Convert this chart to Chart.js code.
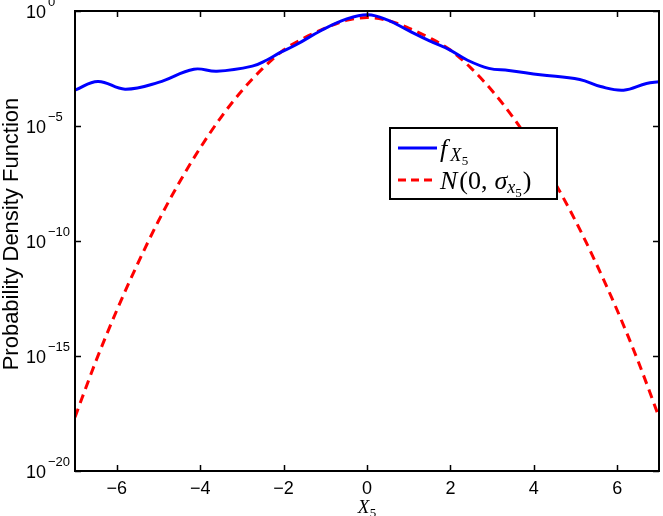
<!DOCTYPE html>
<html><head><meta charset="utf-8">
<script src="https://cdn.jsdelivr.net/npm/chart.js@4/dist/chart.umd.min.js"></script>
<style>html,body{margin:0;padding:0;background:#fff}#wrap{width:663px;height:516px}</style>
</head><body><div id="wrap"><canvas id="c" width="663" height="516"></canvas></div>
<script>
// ---- data ----
const xTickValues = [-6, -4, -2, 0, 2, 4, 6];
const yTickExponents = [0, -5, -10, -15, -20];
const yLabelText = 'Probability Density Function';

// empirical PDF f_X5 (blue)
const blueX = [-7, -6.45, -5.8, -5.0, -4.15, -3.6, -2.75, -2.4, -2.1, -1.7, -1.12, -0.5, 0.02, 0.5, 1.0, 1.5, 1.97, 2.4, 2.92, 3.4, 4.15, 5.1, 5.6, 6.15, 6.7, 7];
const blueY = [3.6e-4, 8.7e-4, 4.0e-4, 7.9e-4, 2.95e-3, 2.4e-3, 4.0e-3, 7.4e-3, 1.5e-2, 3.4e-2, 0.135, 0.44, 0.69, 0.40, 0.14, 0.05, 0.021, 7.4e-3, 3.2e-3, 2.6e-3, 1.7e-3, 1.05e-3, 5.2e-4, 3.6e-4, 7.1e-4, 8.5e-4];

// Gaussian N(0, sigma) (red dashed)
const redX = [-7, -6.5, -6, -5.5, -5, -4.5, -4, -3.5, -3, -2.5, -2, -1.5, -1, -0.5, 0, 0.5, 1, 1.5, 2, 2.5, 3, 3.5, 4, 4.5, 5, 5.5, 6, 6.5, 7];
const redY = [2.2e-18, 5.9e-16, 9.5e-14, 1.0e-11, 7.4e-10, 3.5e-8, 1.1e-6, 2.4e-5, 3.4e-4, 3.2e-3, 2.0e-2, 6.8e-2, 0.18, 0.39, 0.52, 0.39, 0.18, 6.8e-2, 2.0e-2, 3.2e-3, 3.4e-4, 2.4e-5, 1.1e-6, 3.5e-8, 7.4e-10, 1.0e-11, 9.5e-14, 5.9e-16, 2.2e-18];

const seriesNames = ['f_X5', 'N(0, σ_x5)'];
const blueColor = '#0000ff';
const redColor = '#ff0000';

const SANS = '"Liberation Sans", Arial, sans-serif';
const SERIF = '"Liberation Serif", "Times New Roman", serif';

function drawPieces(ctx, x, baseY, pieces) {
  for (const p of pieces) {
    ctx.font = p.font;
    ctx.fillText(p.t, x, baseY + (p.dy || 0));
    x += ctx.measureText(p.t).width + (p.gap || 0);
  }
  return x;
}
function piecesWidth(ctx, pieces) {
  let w = 0;
  for (const p of pieces) { ctx.font = p.font; w += ctx.measureText(p.t).width + (p.gap || 0); }
  return w;
}

const decorPlugin = {
  id: 'decor',
  afterDraw(chart) {
    const ctx = chart.ctx;
    const a = chart.chartArea;
    const xs = chart.scales.x, ys = chart.scales.y;
    ctx.save();
    ctx.fillStyle = '#000';
    ctx.strokeStyle = '#000';
    // frame
    ctx.lineWidth = 2;
    ctx.strokeRect(a.left, a.top, a.right - a.left, a.bottom - a.top);
    // ticks (inward, mirrored)
    ctx.lineWidth = 1.5;
    const tl = 6;
    ctx.beginPath();
    for (const t of xs.ticks) {
      const px = Math.round(xs.getPixelForValue(t.value)) + 0.5;
      ctx.moveTo(px, a.bottom); ctx.lineTo(px, a.bottom - tl);
      ctx.moveTo(px, a.top); ctx.lineTo(px, a.top + tl);
    }
    for (const t of ys.ticks) {
      const py = Math.round(ys.getPixelForValue(t.value)) + 0.5;
      ctx.moveTo(a.left, py); ctx.lineTo(a.left + tl, py);
      ctx.moveTo(a.right, py); ctx.lineTo(a.right - tl, py);
    }
    ctx.stroke();
    // x tick labels
    ctx.font = '18px ' + SANS;
    ctx.textAlign = 'center';
    ctx.textBaseline = 'alphabetic';
    for (const t of xs.ticks) {
      const px = xs.getPixelForValue(t.value);
      const s = t.value < 0 ? '\u2212' + Math.abs(t.value) : String(t.value);
      ctx.fillText(s, px, a.bottom + 23);
    }
    // y tick labels 10^n
    for (const t of ys.ticks) {
      const py = ys.getPixelForValue(t.value);
      const e = Math.round(Math.log10(t.value));
      ctx.font = '18px ' + SANS;
      ctx.textAlign = 'right';
      ctx.fillText('10', a.left - 29, py + 7);
      ctx.font = '13px ' + SANS;
      ctx.textAlign = 'left';
      ctx.fillText(e < 0 ? '\u2212' + Math.abs(e) : String(e), a.left - 27, py - 5);
    }
    // x axis title X_5
    ctx.textAlign = 'left';
    const xt = [{t: 'X', font: 'italic 19px ' + SERIF, gap: 0.5}, {t: '5', font: '13px ' + SERIF, dy: 4}];
    const cx = (a.left + a.right) / 2;
    drawPieces(ctx, cx - piecesWidth(ctx, xt) / 2, a.bottom + 42, xt);
    // y axis title
    ctx.save();
    ctx.translate(18, 234);
    ctx.rotate(-Math.PI / 2);
    ctx.font = '22px ' + SANS;
    ctx.textAlign = 'center';
    ctx.textBaseline = 'alphabetic';
    ctx.fillText(yLabelText, 0, 0);
    ctx.restore();
    // legend
    const lx = 390, ly = 128, lw = 167, lh = 71;
    ctx.fillStyle = '#fff';
    ctx.fillRect(lx, ly, lw, lh);
    ctx.lineWidth = 2;
    ctx.strokeStyle = '#000';
    ctx.strokeRect(lx, ly, lw, lh);
    ctx.lineWidth = 3;
    ctx.strokeStyle = blueColor;
    ctx.beginPath(); ctx.moveTo(398, 148); ctx.lineTo(437, 148); ctx.stroke();
    ctx.strokeStyle = redColor;
    ctx.setLineDash([8, 5]);
    ctx.beginPath(); ctx.moveTo(398, 180); ctx.lineTo(437, 180); ctx.stroke();
    ctx.setLineDash([]);
    ctx.fillStyle = '#000';
    ctx.textAlign = 'left';
    drawPieces(ctx, 440, 157, [
      {t: 'f', font: 'italic 26px ' + SERIF, gap: 3},
      {t: 'X', font: 'italic 18px ' + SERIF, dy: 4, gap: 0.5},
      {t: '5', font: '13px ' + SERIF, dy: 8}
    ]);
    drawPieces(ctx, 440, 189, [
      {t: 'N', font: 'italic 26px ' + SERIF, gap: 2},
      {t: '(0,', font: '26px ' + SERIF, gap: 7},
      {t: 'σ', font: 'italic 26px ' + SERIF},
      {t: 'x', font: 'italic 18px ' + SERIF, dy: 4},
      {t: '5', font: '13px ' + SERIF, dy: 8, gap: 1},
      {t: ')', font: '26px ' + SERIF}
    ]);
    ctx.restore();
  }
};

const hiddenGrid = {display: false, drawTicks: false, tickLength: 0};

new Chart(document.getElementById('c').getContext('2d'), {
  type: 'line',
  data: {
    datasets: [
      {label: seriesNames[0], data: blueX.map((x, i) => ({x, y: blueY[i]})), borderColor: blueColor, borderWidth: 3, pointRadius: 0, tension: 0.4, fill: false},
      {label: seriesNames[1], data: redX.map((x, i) => ({x, y: redY[i]})), borderColor: redColor, borderWidth: 3, borderDash: [9, 6], pointRadius: 0, cubicInterpolationMode: 'monotone', fill: false}
    ]
  },
  options: {
    responsive: false, animation: false, devicePixelRatio: 1,
    layout: {padding: {left: 75, top: 11, right: 4, bottom: 45}},
    plugins: {legend: {display: false}, tooltip: {enabled: false}},
    scales: {
      x: {type: 'linear', min: -7, max: 7,
        afterBuildTicks: s => { s.ticks = xTickValues.map(v => ({value: v})); },
        ticks: {display: false, padding: 0}, grid: hiddenGrid, border: {display: false}},
      y: {type: 'logarithmic', min: 1e-20, max: 1,
        afterBuildTicks: s => { s.ticks = yTickExponents.map(e => ({value: Math.pow(10, e)})); },
        ticks: {display: false, padding: 0}, grid: hiddenGrid, border: {display: false}}
    }
  },
  plugins: [decorPlugin]
});
</script>
</body></html>
